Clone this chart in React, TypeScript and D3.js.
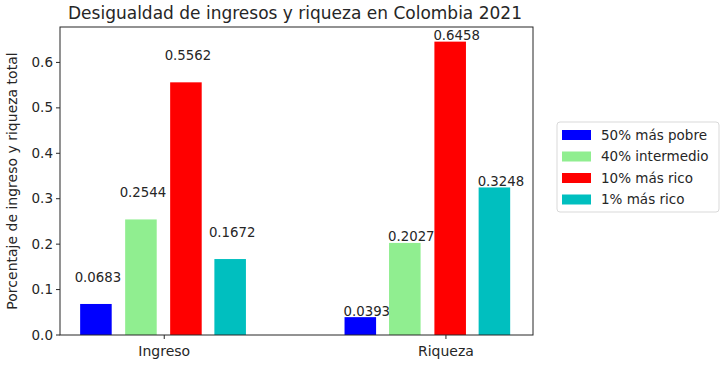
import React from "react";
import * as d3 from "d3";

const categories = ["Ingreso", "Riqueza"];
const seriesNames = ["50% más pobre", "40% intermedio", "10% más rico", "1% más rico"];
const seriesColors = ["#0000ff", "#90ee90", "#ff0000", "#00bfbf"];
const ingresoValues = [0.0683, 0.2544, 0.5562, 0.1672];
const riquezaValues = [0.0393, 0.2027, 0.6458, 0.3248];
// bar centre positions in category units (Ingreso = 0, Riqueza = 1)
const ingresoPositions = [-0.2425, -0.0827, 0.077, 0.234];
const riquezaPositions = [0.696, 0.854, 1.015, 1.172];
const yTicks = [0.0, 0.1, 0.2, 0.3, 0.4, 0.5, 0.6];

const W = 724;
const H = 365;
const left = 60, right = 533, top = 27, bottom = 335;
const font = "'DejaVu Sans', sans-serif";
const ink = "#262626";

export default function App() {
  const x = d3.scaleLinear().domain([-0.37, 1.309]).range([left, right]);
  const y = d3.scaleLinear().domain([0, 0.678]).range([bottom, top]);
  const barW = x(0.112) - x(0);
  const groups = [
    { vals: ingresoValues, pos: ingresoPositions },
    { vals: riquezaValues, pos: riquezaPositions },
  ];

  return (
    <svg width={W} height={H} style={{ position: "absolute", left: 0, top: 0, background: "#fff" }}>
      <text x={295} y={19} textAnchor="middle" fontFamily={font} fontSize={17} fill={ink}>
        Desigualdad de ingresos y riqueza en Colombia 2021
      </text>
      {groups.map((g, ci) =>
        g.vals.map((v, si) => {
          const cx = x(g.pos[si]);
          return (
            <g key={`${ci}-${si}`}>
              <rect x={cx - barW / 2} y={y(v)} width={barW} height={y(0) - y(v)} fill={seriesColors[si]} />
              {ci === 0 ? (
                <text x={cx + 2} y={y(v) - 22} textAnchor="middle" fontFamily={font} fontSize={13.3} fill={ink}>
                  {v.toFixed(4)}
                </text>
              ) : (
                <text x={cx - barW / 2 - 1} y={y(v) - 1.5} textAnchor="start" fontFamily={font} fontSize={13.3} fill={ink}>
                  {v.toFixed(4)}
                </text>
              )}
            </g>
          );
        })
      )}
      <rect x={left} y={top} width={right - left} height={bottom - top} fill="none" stroke={ink} strokeWidth={1} />
      {yTicks.map((t) => (
        <g key={t}>
          <line x1={left - 4} x2={left} y1={y(t)} y2={y(t)} stroke={ink} />
          <text x={left - 7} y={y(t) + 4.5} textAnchor="end" fontFamily={font} fontSize={13.5} fill={ink}>
            {t.toFixed(1)}
          </text>
        </g>
      ))}
      {categories.map((c, i) => (
        <g key={c}>
          <line x1={x(i)} x2={x(i)} y1={bottom} y2={bottom + 4} stroke={ink} />
          <text x={x(i)} y={356} textAnchor="middle" fontFamily={font} fontSize={14} fill={ink}>
            {c}
          </text>
        </g>
      ))}
      <text
        transform={`translate(17,${(top + bottom) / 2}) rotate(-90)`}
        textAnchor="middle"
        fontFamily={font}
        fontSize={14}
        fill={ink}
      >
        Porcentaje de ingreso y riqueza total
      </text>
      <rect x={557} y={122} width={162} height={90} rx={3} fill="#fff" stroke="#d9d9d9" />
      {seriesNames.map((n, i) => (
        <g key={n}>
          <rect x={562} y={130 + i * 21.5} width={29} height={10} fill={seriesColors[i]} />
          <text x={601} y={139.5 + i * 21.5} fontFamily={font} fontSize={13.5} fill={ink}>
            {n}
          </text>
        </g>
      ))}
    </svg>
  );
}
